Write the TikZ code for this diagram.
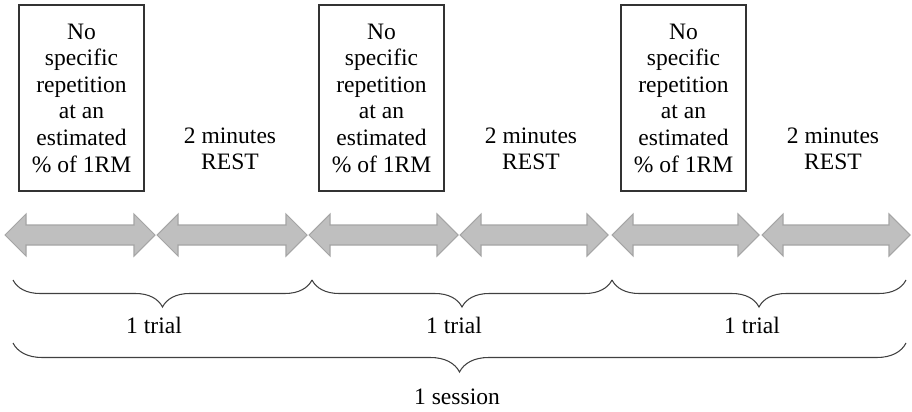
\documentclass[tikz,border=0pt]{standalone}
\usepackage{fontspec}
\setmainfont{Liberation Serif}
\usetikzlibrary{decorations.pathreplacing}
\definecolor{arrfill}{HTML}{BFBFBF}
\definecolor{arrdraw}{HTML}{A5A5A5}
\definecolor{brc}{HTML}{404040}
\tikzset{
  exbox/.style={draw=black!80, line width=0.8pt, minimum width=125*0.02cm, minimum height=186*0.02cm, inner sep=0pt, align=center, font=\fontsize{13.4}{15.15}\selectfont},
  lbl/.style={align=center, inner sep=0pt, font=\fontsize{13.4}{15.15}\selectfont},
  dbl/.style={fill=arrfill, draw=arrdraw, line width=0.6pt, line join=miter},
  brc/.style={draw=brc, line width=0.6pt, decorate, decoration={brace, mirror, amplitude=#1}}
}
\begin{document}
\begin{tikzpicture}[x=0.02cm, y=-0.02cm]
\useasboundingbox (0,0) rectangle (912,412);
% boxes
\node[exbox] (b1) at (81.5,98) {No\\specific\\repetition\\at an\\estimated\\\% of 1RM};
\node[exbox] (b2) at (381.5,98) {No\\specific\\repetition\\at an\\estimated\\\% of 1RM};
\node[exbox] (b3) at (683.5,98) {No\\specific\\repetition\\at an\\estimated\\\% of 1RM};
% rest labels
\node[lbl] (r1) at (230,149) {2 minutes\\REST};
\node[lbl] (r2) at (531,149) {2 minutes\\REST};
\node[lbl] (r3) at (833,149) {2 minutes\\REST};
% double arrows
\foreach \L/\R in {5/155, 157/307, 309/458, 460/608, 612/759, 762/910}{
  \draw[dbl] (\L,235) -- (\L+21,214) -- (\L+21,225) -- (\R-21,225) -- (\R-21,214)
    -- (\R,235) -- (\R-21,256) -- (\R-21,245) -- (\L+21,245) -- (\L+21,256) -- cycle;
}
% trial braces
\coordinate (t1a) at (13,280); \coordinate (t1b) at (312,280);
\coordinate (t2a) at (312,280); \coordinate (t2b) at (612,280);
\coordinate (t3a) at (612,280); \coordinate (t3b) at (906,280);
\draw[brc=27*0.02cm] (t1a) -- (t1b);
\draw[brc=27*0.02cm] (t2a) -- (t2b);
\draw[brc=27*0.02cm] (t3a) -- (t3b);
\node[lbl] (tr1) at (154,325) {1 trial};
\node[lbl] (tr2) at (454,325) {1 trial};
\node[lbl] (tr3) at (752,325) {1 trial};
% session brace
\coordinate (sa) at (13,343); \coordinate (sb) at (906,343);
\draw[brc=29*0.02cm] (sa) -- (sb);
\node[lbl] (ses) at (457,397) {1 session};
\end{tikzpicture}
\end{document}
